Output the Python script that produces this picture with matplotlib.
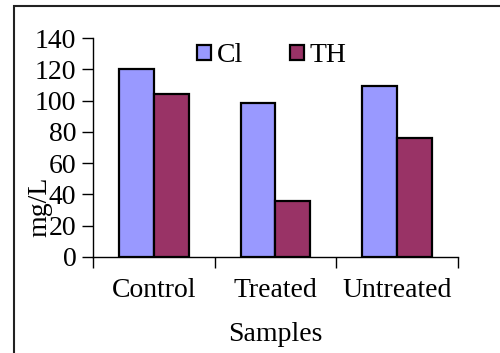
import matplotlib.pyplot as plt
from matplotlib.patches import Rectangle
import numpy as np

samples = ["Control", "Treated", "Untreated"]
cl = [120, 98.5, 109.5]
th = [104, 35.5, 76]

plt.rcParams['font.family'] = ['Liberation Serif', 'DejaVu Serif']
plt.rcParams['font.size'] = 20

fig = plt.figure(figsize=(5, 3.53), dpi=100)
ax = fig.add_axes([0.186, 0.272, 0.73, 0.62])

x = np.arange(len(samples))
w = 0.2875
ax.bar(x - w / 2, cl, w, color="#9999FF", edgecolor="black", linewidth=1.6, label="Cl")
ax.bar(x + w / 2, th, w, color="#993366", edgecolor="black", linewidth=1.6, label="TH")

ax.set_xlim(-0.5, 2.5)
ax.set_ylim(0, 140)
ax.set_yticks(range(0, 141, 20))
ax.set_xticks([-0.5, 0.5, 1.5, 2.5])
ax.set_xticklabels([])
ax.set_xticks(x, minor=True)
ax.set_xticklabels(samples, minor=True)
ax.tick_params(axis="x", which="major", direction="out", length=8, width=1)
ax.tick_params(axis="x", which="minor", length=0, pad=15)
ax.tick_params(axis="y", direction="out", length=8, width=1, pad=4)

for s in ["top", "right"]:
    ax.spines[s].set_visible(False)
ax.spines["left"].set_linewidth(1)
ax.spines["bottom"].set_linewidth(1)

ax.set_xlabel("Samples", labelpad=14)
fig.text(0.08, 1 - 207 / 353, "mg/L", rotation=90, ha="center", va="center")

ax.legend(loc="upper center", bbox_to_anchor=(0.49, 1.09), ncol=2, frameon=False,
          handlelength=0.5, handleheight=0.5, columnspacing=1.7, handletextpad=0.2)

fig.patches.append(Rectangle((14 / 500, -0.5), 2, 0.5 + 1 - 6 / 353, transform=fig.transFigure,
                             fill=False, edgecolor="#222222", linewidth=1.5))

fig.savefig("out.png", dpi=100)
